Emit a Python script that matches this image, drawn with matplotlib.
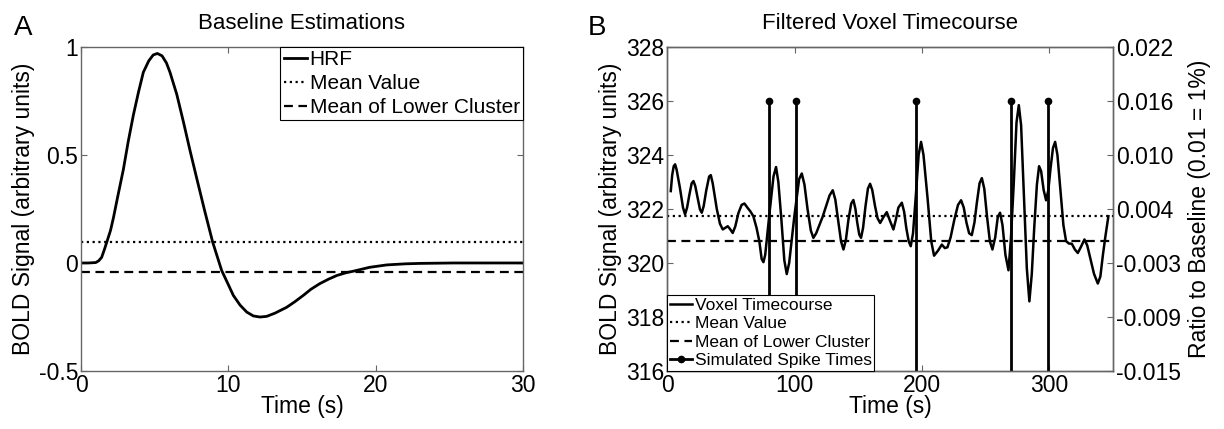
import matplotlib.pyplot as plt
from matplotlib.legend_handler import HandlerLine2D

plt.rcParams["font.family"] = ["Liberation Sans", "DejaVu Sans"]

# Panel A: canonical HRF
hrf_time = [0, 0.5, 1.0, 1.2, 1.4, 1.6, 1.74, 2.0, 2.2, 2.5, 2.87, 3.2, 3.55,
            3.9, 4.23, 4.6, 4.9, 5.18, 5.5, 5.8, 6.04, 6.5, 6.95, 7.4, 7.85,
            8.4, 8.94, 9.55, 10.0, 10.34, 10.8, 11.25, 11.7, 12.15, 12.6,
            13.17, 13.96, 14.5, 15.09, 15.6, 16.2, 16.8, 17.36, 18.0, 18.49,
            19.6, 20.75, 22.0, 23.0, 25.3, 30.0]
hrf_value = [0, 0, 0.002, 0.010, 0.026, 0.065, 0.095, 0.150, 0.209, 0.310,
             0.431, 0.560, 0.683, 0.790, 0.882, 0.935, 0.962, 0.969, 0.958,
             0.925, 0.882, 0.780, 0.653, 0.520, 0.393, 0.240, 0.096, -0.035,
             -0.100, -0.150, -0.195, -0.227, -0.245, -0.250, -0.247, -0.232,
             -0.205, -0.180, -0.150, -0.122, -0.096, -0.075, -0.058, -0.045,
             -0.038, -0.020, -0.009, -0.004, -0.002, 0.0, 0.0]
hrf_mean = 0.095
hrf_lower_mean = -0.04

# Panel B: filtered voxel timecourse
voxel_time = [2.9, 4.0, 5.2, 6.3, 7.5, 10, 12.5, 14.1, 15.7, 17.4, 19.3, 20.7,
              22.1, 24, 25.8, 27.2, 28.7, 30.8, 33.0, 34.3, 35.8, 39.0, 41.5,
              43.7, 45.6, 47.6, 49.5, 51.5, 53.5, 56, 58.5, 60.7, 63, 65.5,
              67.7, 70.2, 72.4, 74.2, 75.6, 77, 80.5, 83.5, 85.5, 87.3, 89.7,
              92, 93.9, 95.8, 99.8, 103.6, 105.7, 107.8, 110.2, 112.8, 114.8,
              117, 122, 127.5, 130, 132, 134.2, 136.5, 138.4, 140.3, 142.3,
              144.5, 146.2, 147.8, 149.2, 150.8, 152.2, 153.8, 155.7, 157.6,
              159.3, 161, 163.2, 165.2, 167.2, 169.8, 172.4, 175, 177.6, 179.5,
              181.5, 184.2, 186, 187.7, 189.6, 191.2, 193, 195.2, 197.4, 199.3,
              201.2, 204.4, 207.3, 209.5, 212.5, 215.6, 218, 220.0, 222.5,
              225.4, 228.3, 230.7, 232.8, 234.9, 237, 239.1, 241.2, 243, 245.2,
              247, 248.9, 251.1, 253.3, 255.3, 257.5, 259.5, 261.3, 263.2,
              265.5, 267.9, 269.8, 272, 274.2, 276.0, 277.8, 280.1, 282.3,
              284.3, 286.2, 288.1, 290.2, 291.9, 293.5, 295.5, 297.4, 299.2,
              300.9, 302.8, 304.5, 306.3, 308.8, 311, 313.1, 315.3, 317.6, 320,
              322.3, 324.8, 327.5, 329.7, 332.0, 335, 338.0, 340, 342, 344,
              346.3]
voxel_signal = [322.66, 323.25, 323.58, 323.65, 323.45, 322.8, 322.05, 321.80,
                322.05, 322.5, 322.95, 323.03, 322.85, 322.4, 321.98, 321.86,
                322.1, 322.7, 323.2, 323.25, 322.95, 322.0, 321.45, 321.24,
                321.3, 321.36, 321.25, 321.11, 321.35, 321.85, 322.15, 322.20,
                322.05, 321.9, 321.73, 321.3, 320.80, 320.15, 320.03, 320.3,
                321.9, 323.2, 323.55, 323.0, 321.6, 320.1, 319.59, 320.0,
                321.7, 323.1, 323.31, 322.9, 322.0, 321.2, 320.93, 321.1,
                321.7, 322.5, 322.69, 322.35, 321.6, 320.8, 320.50, 320.85,
                321.6, 322.2, 322.33, 322.0, 321.5, 321.05, 320.93, 321.3,
                322.1, 322.75, 322.93, 322.7, 322.1, 321.65, 321.48, 321.7,
                321.88, 321.55, 321.24, 321.6, 322.05, 322.23, 321.9, 321.3,
                320.8, 320.62, 321.1, 322.5, 324.0, 324.48, 324.0, 322.4,
                320.8, 320.27, 320.45, 320.68, 320.55, 320.58, 320.95, 321.6,
                322.15, 322.32, 322.05, 321.5, 321.1, 321.03, 321.5, 322.2,
                322.95, 323.14, 322.75, 321.7, 320.8, 320.50, 320.95, 321.7,
                321.86, 321.4, 320.3, 319.73, 320.9, 322.9, 325.2, 325.84,
                325.1, 322.4, 319.8, 318.58, 319.6, 321.3, 322.9, 323.58, 323.4,
                322.7, 322.32, 322.7, 323.5, 324.25, 324.48, 324.0, 322.6,
                321.4, 320.81, 320.72, 320.71, 320.5, 320.37, 320.6, 320.87,
                320.65, 320.19, 319.6, 319.24, 319.5, 320.3, 321.0, 321.73]
voxel_mean = 321.75
voxel_lower_mean = 320.82
spike_times = [80, 101, 195, 270, 299]
spike_top = 326
baseline = 320.85

frame_color = "#666666"
tick_size = 16.5
label_size = 16.5
title_size = 16


class EndDotHandler(HandlerLine2D):
    """Legend line with the marker drawn at its right end."""

    def get_xdata(self, legend, xdescent, ydescent, width, height, fontsize):
        return [-xdescent, -xdescent + width], [-xdescent + width]


def style_axes(ax):
    for spine in ax.spines.values():
        spine.set_color(frame_color)
        spine.set_linewidth(1.0)
    ax.tick_params(direction="in", length=4, width=0.8, color=frame_color,
                   labelsize=tick_size, top=True, right=True, pad=2)


fig = plt.figure(figsize=(12.24, 4.29), dpi=100)

# ---- panel A
ax_a = fig.add_axes([0.0662, 0.135, 0.361, 0.756])
ax_a.plot(hrf_time, hrf_value, color="black", lw=2, label="HRF")
ax_a.axhline(hrf_mean, color="black", lw=1.6, ls=(0, (1, 1.6)), label="Mean Value")
ax_a.axhline(hrf_lower_mean, color="black", lw=1.6, ls=(0, (4, 2.5)),
             label="Mean of Lower Cluster")
ax_a.set_xlim(0, 30)
ax_a.set_ylim(-0.5, 1)
ax_a.set_xticks([0, 10, 20, 30])
ax_a.set_yticks([-0.5, 0, 0.5, 1])
ax_a.set_yticklabels(["-0.5", "0", "0.5", "1"])
style_axes(ax_a)
ax_a.set_xlabel("Time (s)", fontsize=label_size, labelpad=-1)
ax_a.set_ylabel("BOLD Signal (arbitrary units)", fontsize=label_size, labelpad=3)
ax_a.set_title("Baseline Estimations", fontsize=title_size, pad=13)
leg = ax_a.legend(loc="upper right", fontsize=15, frameon=True, fancybox=False,
                  framealpha=1, edgecolor="black", borderaxespad=0,
                  handlelength=1.1, handletextpad=0.15, borderpad=0.15,
                  labelspacing=0.25)
leg.get_frame().set_linewidth(0.8)

# ---- panel B
ax_b = fig.add_axes([0.545, 0.135, 0.3644, 0.756])
ax_b.plot(voxel_time, voxel_signal, color="black", lw=1.8,
          label="Voxel Timecourse")
ax_b.axhline(voxel_mean, color="black", lw=1.6, ls=(0, (1, 1.6)),
             label="Mean Value")
ax_b.axhline(voxel_lower_mean, color="black", lw=1.6, ls=(0, (4, 2.5)),
             label="Mean of Lower Cluster")
for i, t in enumerate(spike_times):
    ax_b.plot([t, t], [315, spike_top], color="black", lw=2,
              marker="o", markersize=4.5, markevery=[1],
              label="Simulated Spike Times" if i == 0 else "_nolegend_")
ax_b.set_xlim(0, 350)
ax_b.set_ylim(316, 328)
ax_b.set_xticks([0, 100, 200, 300])
ax_b.set_yticks(range(316, 329, 2))
style_axes(ax_b)
ax_b.tick_params(right=False)
ax_b.set_xlabel("Time (s)", fontsize=label_size, labelpad=-1)
ax_b.set_ylabel("BOLD Signal (arbitrary units)", fontsize=label_size, labelpad=3)
ax_b.set_title("Filtered Voxel Timecourse", fontsize=title_size, pad=13)

handles, labels = ax_b.get_legend_handles_labels()
spike_handle = [h for h in handles if h.get_label() == "Simulated Spike Times"][0]
leg_b = ax_b.legend(handles, labels, loc="lower left", fontsize=12.5,
                    frameon=True, fancybox=False, framealpha=1,
                    edgecolor="black", borderaxespad=0, handlelength=1.3,
                    handletextpad=0.15, borderpad=0.15, labelspacing=0.2,
                    handler_map={spike_handle: EndDotHandler()})
leg_b.get_frame().set_linewidth(0.8)
leg_b.set_zorder(5)

# right axis: ratio to baseline
ax_r = ax_b.twinx()
ax_r.set_ylim(316, 328)
ratio_ticks = list(range(316, 329, 2))
ax_r.set_yticks(ratio_ticks)
ax_r.set_yticklabels([f"{(v - baseline) / baseline:.3f}" for v in ratio_ticks])
style_axes(ax_r)
ax_r.tick_params(left=False, top=False)
ax_r.set_ylabel("Ratio to Baseline (0.01 = 1%)", fontsize=label_size, labelpad=5)
ax_b.set_zorder(ax_r.get_zorder() + 1)
ax_b.patch.set_visible(False)

fig.text(0.011, 0.918, "A", fontsize=20)
fig.text(0.480, 0.918, "B", fontsize=20)

fig.savefig("out.png", dpi=100)
